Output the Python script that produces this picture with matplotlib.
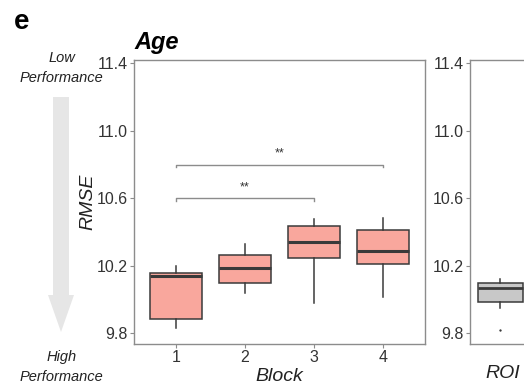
import matplotlib
matplotlib.use("Agg")
import matplotlib.pyplot as plt
from matplotlib.patches import Polygon

plt.rcParams['font.family'] = ['Liberation Sans', 'DejaVu Sans']

# ---- data ----
blocks = ['1', '2', '3', '4']
whislo = [9.828, 10.035, 9.976, 10.015]
q1 = [9.881, 10.098, 10.243, 10.207]
med = [10.140, 10.187, 10.341, 10.286]
q3 = [10.155, 10.262, 10.434, 10.409]
whishi = [10.197, 10.330, 10.476, 10.480]

roi_stats = dict(whislo=9.946, q1=9.985, med=10.065, q3=10.098, whishi=10.118)
roi_fliers = [9.818]

sig_pairs = [(1, 3), (1, 4)]
sig_heights = [10.598, 10.797]
sig_labels = ['**', '**']

yticks = [9.8, 10.2, 10.6, 11.0, 11.4]
ytick_labels = ['9.8', '10.2', '10.6', '11.0', '11.4']

# ---- figure ----
W, H = 524, 390
fig = plt.figure(figsize=(W / 100, H / 100), dpi=100)

def fx(px):
    return px / W

def fy(py):
    return 1 - py / H

ylim = (9.735, 11.422)
edge = '#3a3a3a'
spine_c = '#8c8c8c'
tick_c = '#333333'

ax = fig.add_axes([fx(134), fy(344), fx(425) - fx(134), fy(59.5) - fy(344)])
stats = []
for i in range(len(blocks)):
    stats.append(dict(whislo=whislo[i], q1=q1[i], med=med[i], q3=q3[i],
                      whishi=whishi[i], fliers=[], label=blocks[i]))
ax.bxp(stats, positions=range(1, len(blocks) + 1), widths=0.75,
       patch_artist=True, showcaps=False, showfliers=False,
       boxprops=dict(facecolor='#f9a79d', edgecolor=edge, linewidth=1.1),
       medianprops=dict(color=edge, linewidth=2.2, solid_capstyle='butt'),
       whiskerprops=dict(color=edge, linewidth=1.1))
ax.set_xlim(0.39, 4.61)
ax.set_ylim(*ylim)
ax.set_yticks(yticks)
ax.set_yticklabels(ytick_labels)
ax.tick_params(axis='both', colors=spine_c, labelcolor=tick_c, labelsize=11.5,
               length=3, width=0.8, pad=1.5)
for s in ax.spines.values():
    s.set_color(spine_c)
    s.set_linewidth(1.0)
ax.set_xlabel('Block', fontsize=14, style='italic', color='#222222', labelpad=2)
ax.set_ylabel('RMSE', fontsize=14, style='italic', color='#222222', labelpad=0)
ax.text(0.0, 1.02, 'Age', transform=ax.transAxes, fontsize=17,
        fontweight='bold', style='italic', ha='left', va='bottom')

for (a, b), h, lab in zip(sig_pairs, sig_heights, sig_labels):
    ax.plot([a, a, b, b], [h - 0.015, h, h, h - 0.015], color='#8c8c8c', lw=1.0)
    ax.text((a + b) / 2, h + 0.03, lab, ha='center', va='bottom',
            fontsize=9, color='#333333')

# ---- second (ROI) panel, cut at figure edge ----
ax2 = fig.add_axes([fx(470), fy(344), fx(761) - fx(470), fy(59.5) - fy(344)])
ax2.bxp([dict(roi_stats, fliers=roi_fliers, label='')], positions=[1], widths=0.75,
        patch_artist=True, showcaps=False, showfliers=True,
        boxprops=dict(facecolor='#c8c8c8', edgecolor=edge, linewidth=1.1),
        medianprops=dict(color=edge, linewidth=2.0, solid_capstyle='butt'),
        whiskerprops=dict(color=edge, linewidth=1.1),
        flierprops=dict(marker='o', markersize=1.3, markerfacecolor=edge,
                        markeredgecolor=edge, markeredgewidth=0.3))
ax2.set_xlim(0.5, 5.35)
ax2.set_ylim(*ylim)
ax2.set_yticks(yticks)
ax2.set_yticklabels(ytick_labels)
ax2.set_xticks([])
ax2.tick_params(axis='both', colors=spine_c, labelcolor=tick_c, labelsize=11.5,
                length=3, width=0.8, pad=1.5)
for s in ax2.spines.values():
    s.set_color(spine_c)
    s.set_linewidth(1.0)
fig.text(fx(503), fy(373), 'ROI', fontsize=14, style='italic', color='#222222',
         ha='center', va='center')

# ---- panel letter and performance arrow ----
fig.text(fx(14), fy(22), 'e', fontsize=20, fontweight='bold', ha='left', va='center')
perf_kw = dict(fontsize=10.5, style='italic', ha='center', va='center',
               color='#222222')
fig.text(fx(62), fy(58), 'Low', **perf_kw)
fig.text(fx(61), fy(78), 'Performance', **perf_kw)
fig.text(fx(62), fy(357), 'High', **perf_kw)
fig.text(fx(61), fy(377), 'Performance', **perf_kw)
arrow_px = [(53, 97), (69, 97), (69, 295), (74, 295), (61, 332),
            (48, 295), (53, 295)]
fig.patches.append(Polygon([(fx(x), fy(y)) for x, y in arrow_px], closed=True,
                           transform=fig.transFigure, facecolor='#e6e6e6',
                           edgecolor='none'))

fig.savefig('out.png', dpi=100)
